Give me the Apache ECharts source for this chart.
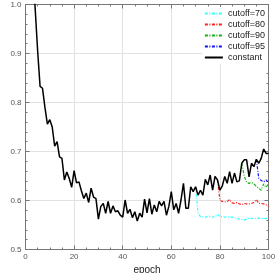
<!DOCTYPE html>
<html><head><meta charset="utf-8">
<script src="https://cdn.jsdelivr.net/npm/echarts@6/dist/echarts.min.js"></script>
<style>html,body{margin:0;padding:0;background:#fff}#c{width:276px;height:273px}</style>
</head><body><div id="c"></div>
<script>
// epochs 0..100
const constantLoss = [1.35,1.25,1.15,1.07,0.99,0.905,0.833,0.829,0.79,0.756,
0.765,0.750,0.711,0.720,0.689,0.686,0.642,0.658,0.645,0.627,
0.661,0.636,0.638,0.620,0.604,0.615,0.596,0.625,0.607,0.604,
0.562,0.588,0.594,0.574,0.598,0.574,0.589,0.577,0.579,0.570,
0.566,0.601,0.574,0.582,0.565,0.577,0.558,0.574,0.566,0.603,
0.575,0.604,0.572,0.591,0.577,0.598,0.589,0.598,0.570,0.588,
0.618,0.581,0.594,0.574,0.601,0.635,0.584,0.584,0.628,0.618,
0.628,0.611,0.621,0.611,0.643,0.632,0.652,0.621,0.649,0.642,
0.621,0.630,0.649,0.635,0.659,0.635,0.656,0.638,0.640,0.676,
0.683,0.683,0.648,0.676,0.669,0.684,0.676,0.686,0.705,0.696,0.696];
const cutoff70Start = 70;
const cutoff70 = [0.628,0.575,0.567,0.567,0.566,0.567,0.567,0.566,0.567,0.572,0.567,0.567,0.566,0.567,0.566,0.566,0.564,0.564,0.562,0.561,0.560,0.562,0.564,0.563,0.564,0.563,0.564,0.563,0.564,0.563,0.564];
const cutoff80Start = 79;
const cutoff80 = [0.642,0.601,0.598,0.597,0.598,0.602,0.595,0.594,0.596,0.593,0.591,0.594,0.593,0.593,0.594,0.596,0.602,0.594,0.594,0.593,0.591,0.588];
const cutoff90Start = 89;
const cutoff90 = [0.676,0.650,0.637,0.635,0.637,0.634,0.629,0.625,0.621,0.634,0.627,0.634];
const cutoff95Start = 95;
const cutoff95 = [0.684,0.645,0.641,0.638,0.642,0.636];
const xTicks = [0,20,40,60,80,100];
const yTicks = [0.5,0.6,0.7,0.8,0.9,1.0];

function pairs(start, arr){ return arr.map((v,i)=>[start+i, v]); }
const chart = echarts.init(document.getElementById('c'));
const dash = [3,1.5,1,1.5];
const axisCol = '#777';
const baseX = {type:'value', min:xTicks[0], max:xTicks[xTicks.length-1], interval:20,
  axisLine:{show:true, onZero:false, lineStyle:{color:axisCol,width:1}},
  axisTick:{show:true, inside:true, length:4, lineStyle:{color:axisCol}},
  minorTick:{show:true, splitNumber:4, length:2, lineStyle:{color:axisCol}},
  splitLine:{show:false}};
const baseY = {type:'value', min:yTicks[0], max:yTicks[yTicks.length-1], interval:0.1,
  axisLine:{show:true, onZero:false, lineStyle:{color:axisCol,width:1}},
  axisTick:{show:true, inside:true, length:4, lineStyle:{color:axisCol}},
  minorTick:{show:true, splitNumber:5, length:2, lineStyle:{color:axisCol}},
  splitLine:{show:false}};
chart.setOption({
  animation:false,
  grid:{left:25.5, right:7.5, top:4.5, bottom:23.5, containLabel:false, outerBoundsMode:'none'},
  legend:{orient:'vertical', right:8, top:7, itemWidth:18, itemHeight:8, itemGap:2,
    backgroundColor:'#fff', padding:[2,3,2,2],
    itemStyle:{opacity:0},
    textStyle:{fontSize:9, color:'#222', fontFamily:'Liberation Sans'},
    data:['cutoff=70','cutoff=80','cutoff=90','cutoff=95','constant']},
  xAxis:[
    Object.assign({}, baseX, {position:'bottom', name:'epoch', nameLocation:'middle', nameGap:11,
      nameTextStyle:{fontSize:10, color:'#222', fontFamily:'Liberation Sans', verticalAlign:'top'},
      axisLabel:{fontSize:8, color:'#555', margin:3, fontFamily:'Liberation Sans'},
      splitLine:{show:true, lineStyle:{color:'#e2e2e2', width:1}}}),
    Object.assign({}, baseX, {position:'top', axisLabel:{show:false}})
  ],
  yAxis:[
    Object.assign({}, baseY, {position:'left', name:'Loss Value', nameLocation:'middle', nameGap:16,
      nameTextStyle:{fontSize:10, color:'#222', fontFamily:'Liberation Sans'},
      axisLabel:{fontSize:8, color:'#555', margin:4, fontFamily:'Liberation Sans', formatter:v=>v.toFixed(1)},
      splitLine:{show:true, lineStyle:{color:'#e2e2e2', width:1}}}),
    Object.assign({}, baseY, {position:'right', axisLabel:{show:false}})
  ],
  series:[
    {name:'cutoff=70', type:'line', symbol:'none', data:pairs(cutoff70Start,cutoff70), lineStyle:{color:'#33ffff', width:1.2, type:dash}, itemStyle:{color:'#33ffff'}, z:3},
    {name:'cutoff=80', type:'line', symbol:'none', data:pairs(cutoff80Start,cutoff80), lineStyle:{color:'#ff2020', width:1.2, type:dash}, itemStyle:{color:'#ff2020'}, z:3},
    {name:'cutoff=90', type:'line', symbol:'none', data:pairs(cutoff90Start,cutoff90), lineStyle:{color:'#10b010', width:1.2, type:dash}, itemStyle:{color:'#10b010'}, z:3},
    {name:'cutoff=95', type:'line', symbol:'none', data:pairs(cutoff95Start,cutoff95), lineStyle:{color:'#1010ff', width:1.2, type:dash}, itemStyle:{color:'#1010ff'}, z:3},
    {name:'constant', type:'line', symbol:'none', data:pairs(0,constantLoss), lineStyle:{color:'#000', width:1.5}, itemStyle:{color:'#000'}, z:4}
  ]
});
</script></body></html>
